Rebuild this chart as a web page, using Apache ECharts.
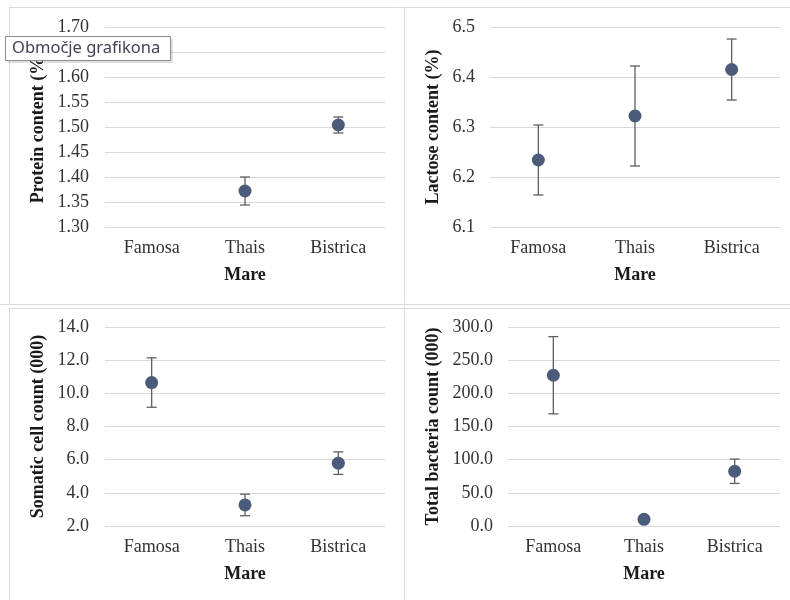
<!DOCTYPE html>
<html>
<head>
<meta charset="utf-8">
<script src="https://cdn.jsdelivr.net/npm/echarts@6/dist/echarts.min.js"></script>
<style>
html,body{margin:0;padding:0;background:#fff;}
#c{width:790px;height:600px;}
</style>
</head>
<body>
<div id="c"></div>
<script>
var categories = ['Famosa', 'Thais', 'Bistrica'];

var proteinMean = [null, 1.372, 1.504];
var proteinErr = [null, 0.028, 0.016];
var proteinTicks = {min: 1.30, max: 1.70, step: 0.05, digits: 2};

var lactoseMean = [6.234, 6.322, 6.415];
var lactoseErr = [0.070, 0.100, 0.061];
var lactoseTicks = {min: 6.1, max: 6.5, step: 0.1, digits: 1};

var somaticMean = [10.65, 3.27, 5.79];
var somaticErr = [1.49, 0.65, 0.68];
var somaticTicks = {min: 2, max: 14, step: 2, digits: 1};

var bacteriaMean = [227.3, 10.0, 82.5];
var bacteriaErr = [58.2, 3.0, 18.3];
var bacteriaTicks = {min: 0, max: 300, step: 50, digits: 1};

var axisNames = ['Protein content (%)', 'Lactose content (%)', 'Somatic cell count (000)', 'Total bacteria count (000)'];
var xName = 'Mare';

var FONT = '"Liberation Serif", "Times New Roman", serif';
var MARK = '#4a5c7a';
var ERR = '#5f5f5f';
var GRID = '#d9d9d9';

var panels = [
  {mean: proteinMean, err: proteinErr, t: proteinTicks, grid: {left: 105, top: 27, width: 280, height: 200}, lm: 16, ng: 58},
  {mean: lactoseMean, err: lactoseErr, t: lactoseTicks, grid: {left: 490, top: 27, width: 290, height: 200}, lm: 15, ng: 48},
  {mean: somaticMean, err: somaticErr, t: somaticTicks, grid: {left: 105, top: 327, width: 280, height: 199}, lm: 16, ng: 58},
  {mean: bacteriaMean, err: bacteriaErr, t: bacteriaTicks, grid: {left: 508, top: 327, width: 272, height: 199}, lm: 15, ng: 66}
];

var grids = [], xAxes = [], yAxes = [], series = [];
panels.forEach(function (p, i) {
  grids.push(p.grid);
  xAxes.push({
    type: 'category', gridIndex: i, data: categories, boundaryGap: true,
    axisLine: {show: false}, axisTick: {show: false},
    axisLabel: {fontFamily: FONT, fontSize: 18, color: '#333', margin: 12},
    name: xName, nameLocation: 'middle', nameGap: 39,
    nameTextStyle: {fontFamily: FONT, fontSize: 18, fontWeight: 'bold', color: '#1a1a1a'}
  });
  yAxes.push({
    type: 'value', gridIndex: i, min: p.t.min, max: p.t.max, interval: p.t.step,
    axisLine: {show: false}, axisTick: {show: false},
    splitLine: {lineStyle: {color: GRID, width: 1}},
    axisLabel: {fontFamily: FONT, fontSize: 18, color: '#333', margin: p.lm,
      formatter: (function (d) { return function (v) { return v.toFixed(d); }; })(p.t.digits)},
    name: axisNames[i], nameLocation: 'middle', nameGap: p.ng, nameRotate: 90,
    nameTextStyle: {fontFamily: FONT, fontSize: 18, fontWeight: 'bold', color: '#1a1a1a'}
  });
  var errData = [];
  p.mean.forEach(function (m, k) {
    if (m !== null) errData.push([k, m - p.err[k], m + p.err[k]]);
  });
  series.push({
    type: 'custom', xAxisIndex: i, yAxisIndex: i, data: errData, z: 2,
    renderItem: function (params, api) {
      var x = api.value(0);
      var lo = api.coord([x, api.value(1)]);
      var hi = api.coord([x, api.value(2)]);
      var hw = 5;
      var st = {stroke: ERR, lineWidth: 1.3};
      return {type: 'group', children: [
        {type: 'line', shape: {x1: hi[0], y1: hi[1], x2: lo[0], y2: lo[1]}, style: st},
        {type: 'line', shape: {x1: hi[0] - hw, y1: hi[1], x2: hi[0] + hw, y2: hi[1]}, style: st},
        {type: 'line', shape: {x1: lo[0] - hw, y1: lo[1], x2: lo[0] + hw, y2: lo[1]}, style: st}
      ]};
    }
  });
  series.push({
    type: 'scatter', xAxisIndex: i, yAxisIndex: i, z: 3,
    data: p.mean.map(function (m, k) { return m === null ? [k, '-'] : [k, m]; }),
    symbol: 'circle', symbolSize: 13,
    itemStyle: {color: MARK, opacity: 1}
  });
});

var chart = echarts.init(document.getElementById('c'), null, {renderer: 'canvas'});
chart.setOption({
  animation: false,
  backgroundColor: '#fff',
  grid: grids, xAxis: xAxes, yAxis: yAxes, series: series,
  graphic: [
    {type: 'line', z: 1, shape: {x1: 9, y1: 7.5, x2: 790, y2: 7.5}, style: {stroke: '#d9d9d9', lineWidth: 1}},
    {type: 'line', z: 1, shape: {x1: 9.5, y1: 7, x2: 9.5, y2: 305}, style: {stroke: '#d9d9d9', lineWidth: 1}},
    {type: 'line', z: 1, shape: {x1: 0, y1: 304.5, x2: 790, y2: 304.5}, style: {stroke: '#d9d9d9', lineWidth: 1}},
    {type: 'line', z: 1, shape: {x1: 9, y1: 308.5, x2: 790, y2: 308.5}, style: {stroke: '#d9d9d9', lineWidth: 1}},
    {type: 'line', z: 1, shape: {x1: 9.5, y1: 308, x2: 9.5, y2: 600}, style: {stroke: '#d9d9d9', lineWidth: 1}},
    {type: 'line', z: 1, shape: {x1: 404.5, y1: 7, x2: 404.5, y2: 600}, style: {stroke: '#d9d9d9', lineWidth: 1}},
    {type: 'rect', z: 100, shape: {x: 8, y: 39, width: 165, height: 24},
      style: {fill: 'rgba(0,0,0,0.12)'}},
    {type: 'rect', z: 101, shape: {x: 5.5, y: 36.5, width: 165, height: 24},
      style: {fill: '#ffffff', stroke: '#8c8c8c', lineWidth: 1}},
    {type: 'text', z: 102, x: 12, y: 48.5,
      style: {text: 'Območje grafikona', fontFamily: '"Noto Sans", "Open Sans", sans-serif', fontSize: 16.5,
        fill: '#454055', textVerticalAlign: 'middle', verticalAlign: 'middle'}}
  ]
});
</script>
</body>
</html>
